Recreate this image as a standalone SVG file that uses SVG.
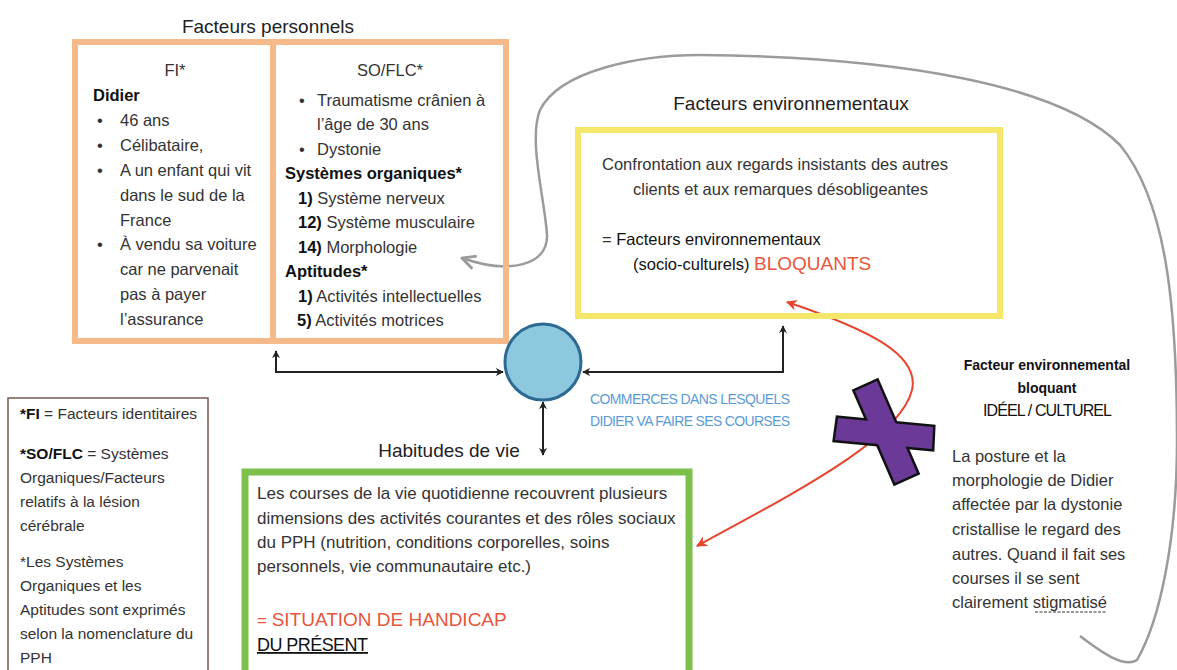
<svg xmlns="http://www.w3.org/2000/svg" width="1177" height="670" viewBox="0 0 1177 670">
<defs>
<style>
text{font-family:"Liberation Sans",Arial,sans-serif;fill:#333;}
.t{font-size:16.5px;}
.g{font-size:17px;}
.h{font-size:19px;fill:#222;}
.b{font-weight:bold;}
.lg{font-size:15.5px;}
.red{fill:#E9553C;}
.blue{fill:#5B9BD5;font-size:14px;}
.k{fill:#111;}
.conn{fill:none;stroke:#222;stroke-width:2;}
</style>
<marker id="ab" viewBox="0 0 10 10" refX="9" refY="5" markerWidth="8" markerHeight="8" markerUnits="userSpaceOnUse" orient="auto-start-reverse">
<path d="M0,0 L10,5 L0,10 L3,5 z" fill="#222"/>
</marker>
<marker id="ar" viewBox="0 0 10 10" refX="9" refY="5" markerWidth="11" markerHeight="11" markerUnits="userSpaceOnUse" orient="auto-start-reverse">
<path d="M0,0 L10,5 L0,10 L3,5 z" fill="#E8452F"/>
</marker>
<marker id="ag" viewBox="0 0 12 12" refX="11" refY="6" markerWidth="16" markerHeight="16" markerUnits="userSpaceOnUse" orient="auto">
<path d="M1,1 L11,6 L1,11" fill="none" stroke="#9B9B9B" stroke-width="2.2"/>
</marker>
</defs>
<rect width="1177" height="670" fill="#fff"/>

<g id="connectors">
<path class="conn" d="M276,351 L276,372 L503,372" marker-start="url(#ab)" marker-end="url(#ab)"/>
<path class="conn" d="M583,372 L783,372 L783,326" marker-start="url(#ab)" marker-end="url(#ab)"/>
<path class="conn" d="M543,402 L543,455" marker-start="url(#ab)" marker-end="url(#ab)"/>
<path fill="none" stroke="#9B9B9B" stroke-width="2.5" d="M1080,636 C1105,655 1125,668 1137,660 C1160,620 1177,540 1177,440 C1177,300 1165,200 1120,145 C1060,85 900,57 700,55 C640,55 560,70 540,110 C528,140 545,200 547,235 C548,265 510,275 462,258" marker-end="url(#ag)"/>
<path fill="none" stroke="#E8452F" stroke-width="2" d="M697,546 C790,495 900,440 912,390 C920,355 870,330 787,302" marker-start="url(#ar)" marker-end="url(#ar)"/>
</g>

<g id="facteurs-personnels">
<text class="h" x="268" y="33" text-anchor="middle">Facteurs personnels</text>
<rect x="75" y="42" width="431" height="299" fill="none" stroke="#F6B98A" stroke-width="6"/>
<line x1="273" y1="42" x2="273" y2="341" stroke="#F6B98A" stroke-width="6"/>
<text class="t" x="175" y="76" text-anchor="middle">FI*</text>
<text class="t b k" x="93" y="101">Didier</text>
<text class="t" x="97" y="126">•</text><text class="t" x="120" y="126">46 ans</text>
<text class="t" x="97" y="151">•</text><text class="t" x="120" y="151">Célibataire,</text>
<text class="t" x="97" y="176">•</text><text class="t" x="120" y="176">A un enfant qui vit</text>
<text class="t" x="120" y="201">dans le sud de la</text>
<text class="t" x="120" y="226">France</text>
<text class="t" x="97" y="250">•</text><text class="t" x="120" y="250">À vendu sa voiture</text>
<text class="t" x="120" y="275">car ne parvenait</text>
<text class="t" x="120" y="300">pas à payer</text>
<text class="t" x="120" y="325">l’assurance</text>

<text class="t" x="390" y="76" text-anchor="middle">SO/FLC*</text>
<text class="t" x="299" y="106">•</text><text class="t" x="317" y="106">Traumatisme crânien à</text>
<text class="t" x="317" y="130">l’âge de 30 ans</text>
<text class="t" x="299" y="155">•</text><text class="t" x="317" y="155">Dystonie</text>
<text class="t b k" x="285" y="179">Systèmes organiques*</text>
<text class="t" x="298" y="204"><tspan class="b k">1)</tspan> Système nerveux</text>
<text class="t" x="298" y="228"><tspan class="b k">12)</tspan> Système musculaire</text>
<text class="t" x="298" y="253"><tspan class="b k">14)</tspan> Morphologie</text>
<text class="t b k" x="285" y="277">Aptitudes*</text>
<text class="t" x="298" y="302"><tspan class="b k">1)</tspan> Activités intellectuelles</text>
<text class="t" x="297" y="326"><tspan class="b k">5)</tspan> Activités motrices</text>
</g>

<g id="facteurs-environnementaux">
<text class="h" x="791" y="110" text-anchor="middle">Facteurs environnementaux</text>
<rect x="578" y="130" width="422" height="186" fill="none" stroke="#F4E76A" stroke-width="6"/>
<text class="t" x="602" y="170" textLength="346">Confrontation aux regards insistants des autres</text>
<text class="t" x="633" y="195" textLength="295">clients et aux remarques désobligeantes</text>
<text class="t" x="602" y="245">= <tspan class="k">Facteurs environnementaux</tspan></text>
<text class="t k" x="633" y="270">(socio-culturels) <tspan class="red" style="font-size:19px">BLOQUANTS</tspan></text>
</g>

<g id="commerces">
<circle cx="543" cy="362" r="38" fill="#8EC8DE" stroke="#2C6A94" stroke-width="3"/>
<text class="blue" x="590" y="404" textLength="200">COMMERCES DANS LESQUELS</text>
<text class="blue" x="590" y="426" textLength="200">DIDIER VA FAIRE SES COURSES</text>
</g>

<g id="habitudes-de-vie">
<text class="h" x="449" y="457" text-anchor="middle">Habitudes de vie</text>
<rect x="245" y="472" width="444" height="220" fill="none" stroke="#7DC04B" stroke-width="7"/>
<text class="g" x="257" y="499">Les courses de la vie quotidienne recouvrent plusieurs</text>
<text class="g" x="257" y="524">dimensions des activités courantes et des rôles sociaux</text>
<text class="g" x="257" y="548">du PPH (nutrition, conditions corporelles, soins</text>
<text class="g" x="257" y="572">personnels, vie communautaire etc.)</text>
<text class="g red" x="257" y="626">= <tspan style="font-size:19px">SITUATION DE HANDICAP</tspan></text>
<text class="k" x="257" y="651" style="font-size:18px;text-decoration:underline" textLength="111">DU PRÉSENT</text>
</g>

<g id="legende">
<rect x="8" y="398" width="200" height="280" fill="none" stroke="#7A5A50" stroke-width="1.5"/>
<text class="lg" x="20" y="419"><tspan class="b k">*FI</tspan> = Facteurs identitaires</text>
<text class="lg" x="20" y="459"><tspan class="b k">*SO/FLC</tspan> = Systèmes</text>
<text class="lg" x="20" y="483">Organiques/Facteurs</text>
<text class="lg" x="20" y="507">relatifs à la lésion</text>
<text class="lg" x="20" y="531">cérébrale</text>
<text class="lg" x="20" y="567">*Les Systèmes</text>
<text class="lg" x="20" y="591">Organiques et les</text>
<text class="lg" x="20" y="615">Aptitudes sont exprimés</text>
<text class="lg" x="20" y="639">selon la nomenclature du</text>
<text class="lg" x="20" y="663">PPH</text>
</g>

<g id="croix">
<g stroke="#111" stroke-width="5" stroke-linejoin="miter" fill="#6B3A98">
<polygon points="855,391 877,381 917,473 895,483"/>
<polygon points="838,418 933,427 932,449 835,440"/>
</g>
<g fill="#6B3A98">
<polygon points="855,391 877,381 917,473 895,483"/>
<polygon points="838,418 933,427 932,449 835,440"/>
</g>
</g>

<g id="facteur-ideel">
<text class="b k" x="1047" y="370" text-anchor="middle" style="font-size:14px">Facteur environnemental</text>
<text class="b k" x="1047" y="393" text-anchor="middle" style="font-size:14px">bloquant</text>
<text class="k" x="983" y="416" style="font-size:16px" textLength="129">IDÉEL / CULTUREL</text>
<text class="t" x="952" y="462">La  posture et la</text>
<text class="t" x="952" y="486">morphologie de Didier</text>
<text class="t" x="952" y="510">affectée par la dystonie</text>
<text class="t" x="952" y="535">cristallise le regard des</text>
<text class="t" x="952" y="560">autres. Quand il fait ses</text>
<text class="t" x="952" y="584">courses il se sent</text>
<text class="t" x="952" y="608">clairement stigmatisé</text>
<line x1="1035" y1="612" x2="1107" y2="612" stroke="#333" stroke-width="1" stroke-dasharray="3,1.5"/>
</g>
</svg>
